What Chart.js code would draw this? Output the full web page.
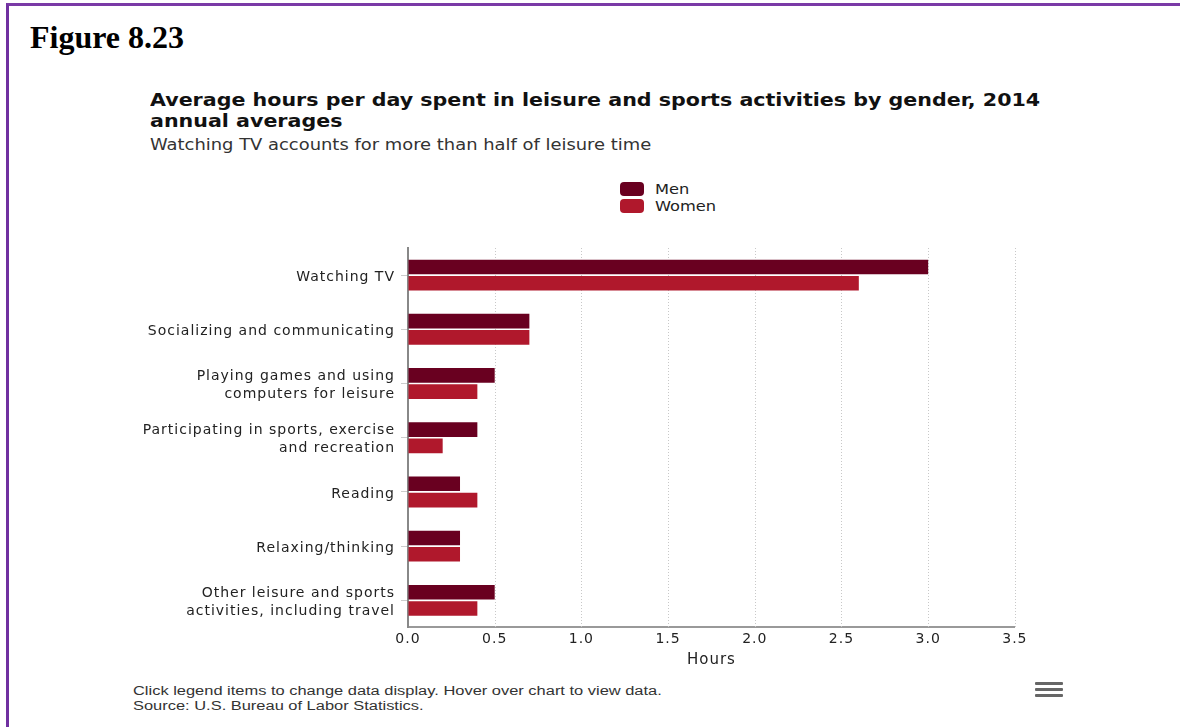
<!DOCTYPE html>
<html>
<head>
<meta charset="utf-8">
<script src="https://cdn.jsdelivr.net/npm/chart.js@4"></script>
<style>
  body { margin: 0; background: #fff; width: 1180px; height: 727px; overflow: hidden; position: relative; }
  #frame { position: absolute; left: 6px; top: 3px; right: 0; bottom: 0; border-top: 3px solid #7a3aa6; border-left: 3px solid #7030a0; }
  #fig { position: absolute; left: 30px; top: 19px; font: bold 32px "Liberation Serif", serif; color: #000; }
  #title { position: absolute; left: 150px; top: 90px; font: bold 17px "DejaVu Sans", sans-serif; line-height: 21px; color: #111; transform: scaleX(1.212); transform-origin: left top; white-space: nowrap; }
  #subtitle { position: absolute; left: 150px; top: 136px; font: 15px "DejaVu Sans", sans-serif; color: #333; transform: scaleX(1.194); transform-origin: left top; white-space: nowrap; }
  #legend { position: absolute; left: 620px; top: 180px; font: 14px "DejaVu Sans", sans-serif; color: #222; }
  .item { height: 17px; display: flex; align-items: center; }
  .sw { width: 24px; height: 14px; border-radius: 4px; margin-right: 11px; }
  .lab { display: inline-block; transform: scaleX(1.16); transform-origin: left center; }
  #wrap { position: absolute; left: 130px; top: 240px; width: 900px; height: 440px; }
  #foot { position: absolute; left: 133px; top: 684px; font: 12px "Liberation Sans", sans-serif; color: #333; line-height: 15px; transform: scaleX(1.37); transform-origin: left top; white-space: nowrap; }
  #menu { position: absolute; left: 1035px; top: 682px; width: 28px; }
  #menu div { height: 3px; background: #666; margin-bottom: 3px; border-radius: 1px; }
</style>
</head>
<body>
<div id="frame"></div>
<div id="fig">Figure 8.23</div>
<div id="title">Average hours per day spent in leisure and sports activities by gender, 2014<br>annual averages</div>
<div id="subtitle">Watching TV accounts for more than half of leisure time</div>
<div id="legend"></div>
<div id="wrap"><canvas id="chart" width="900" height="440"></canvas></div>
<div id="foot">Click legend items to change data display. Hover over chart to view data.<br>Source: U.S. Bureau of Labor Statistics.</div>
<div id="menu"><div></div><div></div><div></div></div>
<script>
// categorias (cada una con sus lineas)
const categories = [
    ['Watching TV'],
    ['Socializing and communicating'],
    ['Playing games and using', 'computers for leisure'],
    ['Participating in sports, exercise', 'and recreation'],
    ['Reading'],
    ['Relaxing/thinking'],
    ['Other leisure and sports', 'activities, including travel']
];
const menHours = [3.0, 0.7, 0.5, 0.4, 0.3, 0.3, 0.5];
const womenHours = [2.6, 0.7, 0.4, 0.2, 0.4, 0.3, 0.4];
const xTicks = [0, 0.5, 1, 1.5, 2, 2.5, 3, 3.5];

const seriesNames = ['Men', 'Women'];
const seriesColors = ['#690020', '#b0182c'];

// leyenda en html
const legendDiv = document.getElementById('legend');
seriesNames.forEach((name, i) => {
    legendDiv.innerHTML += `<div class="item"><div class="sw" style="background:${seriesColors[i]}"></div><span class="lab">${name}</span></div>`;
});

const ctx = document.getElementById('chart').getContext('2d');
new Chart(ctx, {
    type: 'bar',
    data: {
        labels: categories,
        datasets: [
            { label: seriesNames[0], data: menHours, backgroundColor: seriesColors[0] },
            { label: seriesNames[1], data: womenHours, backgroundColor: seriesColors[1] }
        ]
    },
    options: {
        indexAxis: 'y',
        responsive: false,
        animation: false,
        categoryPercentage: 0.6,
        barPercentage: 0.9,
        layout: { padding: { top: 8, right: 14, bottom: 6, left: 0 } },
        plugins: {
            legend: { display: false },
            tooltip: { enabled: false }
        },
        scales: {
            x: {
                min: 0,
                max: 3.5,
                afterBuildTicks: (scale) => { scale.ticks = xTicks.map(v => ({ value: v })); },
                border: { color: '#999', width: 2 },
                grid: { drawOnChartArea: false, drawTicks: false },
                ticks: {
                    padding: 4,
                    color: '#222',
                    font: { family: 'DejaVu Sans', size: 14 },
                    callback: (v) => Number(v).toFixed(1)
                },
                title: {
                    display: true,
                    text: 'Hours',
                    color: '#222',
                    font: { family: 'DejaVu Sans', size: 15, lineHeight: 1.05 },
                    padding: { top: 0, bottom: 6 }
                }
            },
            y: {
                afterFit: (scale) => {
                    scale.width = 278;
                    scale.paddingTop = 0;
                    scale.paddingBottom = 0;
                },
                border: { color: '#888', width: 2 },
                grid: { drawOnChartArea: false, offset: false, tickLength: 7, color: '#ccc' },
                ticks: {
                    padding: 6,
                    labelOffset: 2,
                    color: '#222',
                    font: { family: 'DejaVu Sans', size: 14, lineHeight: 1.3 }
                }
            }
        }
    },
    plugins: [{
        // lineas punteadas verticales + espaciado de letras
        id: 'dotted',
        beforeDraw(chart) {
            chart.ctx.letterSpacing = '1px';
        },
        afterDraw(chart) {
            chart.ctx.letterSpacing = '0px';
        },
        beforeDatasetsDraw(chart) {
            const c = chart.ctx, xs = chart.scales.x, a = chart.chartArea;
            c.save();
            c.strokeStyle = '#c8c8c8';
            c.lineWidth = 1;
            c.setLineDash([1, 2]);
            xTicks.slice(1).forEach(v => {
                const px = Math.round(xs.getPixelForValue(v)) + 0.5;
                c.beginPath();
                c.moveTo(px, a.top);
                c.lineTo(px, a.bottom);
                c.stroke();
            });
            c.restore();
        }
    }]
});
</script>
</body>
</html>
